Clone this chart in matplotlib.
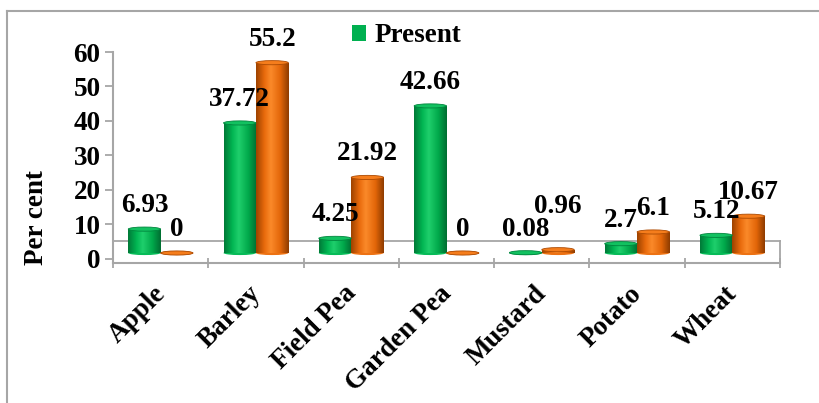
import numpy as np
import matplotlib
matplotlib.use("Agg")
import matplotlib.pyplot as plt
from matplotlib.colors import LinearSegmentedColormap
from matplotlib.patches import Ellipse, Patch
from matplotlib.lines import Line2D
import matplotlib.transforms as mtransforms

# ---- data ----
crops = ["Apple", "Barley", "Field Pea", "Garden Pea", "Mustard", "Potato", "Wheat"]
present = [6.93, 37.72, 4.25, 42.66, 0.08, 2.7, 5.12]
other = [0, 55.2, 21.92, 0, 0.96, 6.1, 10.67]
y_ticks = [0, 10, 20, 30, 40, 50, 60]

# ---- style ----
plt.rcParams["font.family"] = ["Liberation Serif", "DejaVu Serif"]
plt.rcParams["font.weight"] = "bold"
FS = 19.5
GRAY = "#a6a6a6"
GREEN = "#00b050"
ORANGE = "#ee7011"
green_cmap = LinearSegmentedColormap.from_list(
    "g", [(0, "#007a38"), (0.25, "#00b552"), (0.45, "#1fcf6c"), (0.75, "#00a84a"), (1, "#006e32")])
orange_cmap = LinearSegmentedColormap.from_list(
    "o", [(0, "#9e4300"), (0.25, "#e86a0c"), (0.45, "#fb8a2a"), (0.75, "#e26508"), (1, "#8f3c00")])

DEPTH = 1.7      # floor offset of the cylinders
CAP_H = 1.2      # height of the elliptical cylinder caps (data units)
WIDTH = 0.34
YMIN = -1.2

fig = plt.figure(figsize=(8.2, 4.03), dpi=100)
ax = fig.add_axes([113 / 820, 1 - 263 / 403, 667 / 820, (263 - 52) / 403])

x = np.arange(len(crops)) + 0.5


def draw_series(xs, vals, cmap, base, cap_color):
    bars = ax.bar(xs, vals, width=WIDTH, bottom=DEPTH, color=base, zorder=3, linewidth=0)
    grad = np.linspace(0, 1, 64).reshape(1, -1)
    for bar, cx, v in zip(bars, xs, vals):
        x0 = cx - WIDTH / 2
        im = ax.imshow(grad, extent=(x0, x0 + WIDTH, DEPTH, DEPTH + v), aspect="auto",
                       cmap=cmap, origin="lower", zorder=4, interpolation="bilinear")
        im.set_clip_path(bar)
        ax.add_patch(Ellipse((cx, DEPTH), WIDTH, CAP_H, facecolor=cmap(0.3),
                             edgecolor="none", zorder=2.9))
        ax.add_patch(Ellipse((cx, DEPTH + v), WIDTH, CAP_H, facecolor=cap_color,
                             edgecolor=cmap(0.05), linewidth=0.6, zorder=5))
    return bars


draw_series(x - WIDTH / 2, present, green_cmap, GREEN, "#12c160")
draw_series(x + WIDTH / 2, other, orange_cmap, ORANGE, "#f57d1c")

# value labels above each cylinder
extra_lift = {(4, 1): 14}
for s, (vals, sign) in enumerate([(present, -1), (other, 1)]):
    for i, v in enumerate(vals):
        cx = x[i] + sign * WIDTH / 2
        ax.annotate(f"{v:g}", xy=(cx, DEPTH + v), xytext=(0, 17 + extra_lift.get((i, s), 0)),
                    textcoords="offset points", ha="center", va="center",
                    fontsize=FS, fontweight="bold", zorder=6, annotation_clip=False)

# floor of the 3-D plot area
ax.plot([0, len(crops)], [5.3, 5.3], color=GRAY, lw=1.3, zorder=1, clip_on=False)
ax.plot([len(crops), len(crops)], [YMIN, 5.3], color=GRAY, lw=1.3, zorder=1, clip_on=False)

ax.set_xlim(0, len(crops))
ax.set_ylim(YMIN, 60)

for side in ["top", "right"]:
    ax.spines[side].set_visible(False)
for side in ["left", "bottom"]:
    ax.spines[side].set_color(GRAY)
    ax.spines[side].set_linewidth(1.5)

ax.set_yticks(y_ticks)
ax.set_yticklabels([str(t) for t in y_ticks], fontsize=FS, fontweight="bold")
ax.tick_params(axis="y", direction="out", length=6, width=1.3, color=GRAY, pad=3)

# category boundaries carry the tick marks, centres carry the names
ax.set_xticks(np.arange(len(crops) + 1))
ax.set_xticklabels([])
ax.tick_params(axis="x", which="major", direction="inout", length=7, width=1.3, color=GRAY)
ax.set_xticks(x, minor=True)
ax.set_xticklabels(crops, minor=True, rotation=45, ha="right", va="top",
                   rotation_mode="anchor", fontsize=FS, fontweight="bold")
ax.tick_params(axis="x", which="minor", length=0, pad=13)
shift = mtransforms.ScaledTranslation(-8 / 100, 0, fig.dpi_scale_trans)
for lbl in ax.get_xticklabels(minor=True):
    lbl.set_transform(lbl.get_transform() + shift)

ax.patch.set_alpha(0)

fig.text(37 / 820, 1 - 218 / 403, "Per cent", rotation=90, ha="center", va="center",
         fontsize=FS, fontweight="bold")

fig.legend(handles=[Patch(facecolor=GREEN, edgecolor="none", label="Present")],
           loc="center left", bbox_to_anchor=(352 / 820, 1 - 36 / 403), frameon=False,
           handlelength=0.52, handleheight=0.52, handletextpad=0.3, borderpad=0,
           borderaxespad=0, prop={"size": FS, "weight": "bold"})

# chart frame
fig.add_artist(Line2D([7 / 820, 7 / 820], [0, 1 - 11 / 403], transform=fig.transFigure,
                      color=GRAY, lw=1.5))
fig.add_artist(Line2D([7 / 820, 1], [1 - 11 / 403, 1 - 11 / 403], transform=fig.transFigure,
                      color=GRAY, lw=1.5))

fig.savefig("out.png", dpi=100)
